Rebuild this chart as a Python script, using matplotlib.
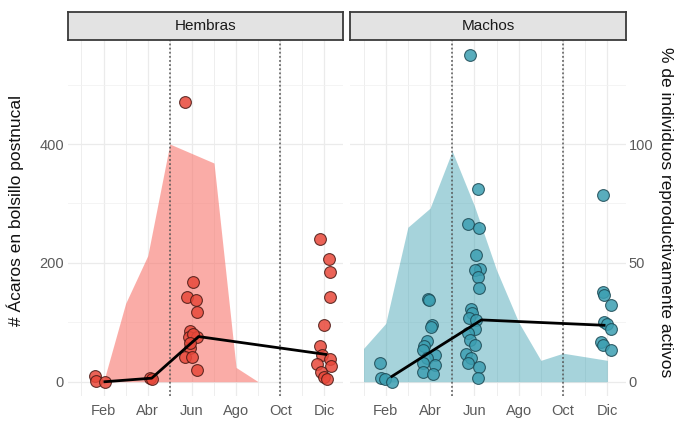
import matplotlib
matplotlib.use("Agg")
import matplotlib.pyplot as plt
import numpy as np

plt.rcParams['font.family'] = ['Liberation Sans', 'DejaVu Sans']

# month positions (1 = Jan) and labels
month_ticks = [2, 4, 6, 8, 10, 12]
month_labels = ['Feb', 'Abr', 'Jun', 'Ago', 'Oct', 'Dic']
dotted_months = [5, 10]

# % reproductively active (ribbon)
hem_rib_month = [2, 3, 4, 5, 6, 7, 8, 9]
hem_rib_pct = [0, 33, 53, 100, 96, 92, 6, 0]
mac_rib_month = [1, 2, 3, 4, 5, 6, 7, 8, 9, 10, 11, 12]
mac_rib_pct = [14, 24.5, 65, 73, 97, 74, 47, 25, 9, 12, 10.5, 9]

# mite counts per individual (jittered month, count)
hem_x = [1.62, 1.68, 2.06, 4.10, 4.20,
         5.70, 6.05, 5.77, 6.20, 6.23, 5.92, 5.85, 6.23, 5.92, 5.70, 6.00, 6.25, 6.05, 5.90,
         11.80, 12.21, 12.26, 12.26, 11.98, 11.80, 11.90, 12.26, 11.68, 12.29, 11.86, 11.98, 12.10]
hem_y = [10, 2, 0, 7, 5,
         470, 168, 143, 138, 118, 86, 76, 76, 56, 42, 41, 19, 80, 65,
         241, 207, 185, 142, 95, 60, 45, 39, 30, 26, 17, 8, 4]

mac_x = [1.75, 1.78, 1.97, 2.28,
         3.92, 3.95, 4.10, 4.05, 3.85, 3.75, 3.70, 4.22, 3.85, 3.70, 4.22, 3.69, 4.14,
         5.79, 6.16, 5.71, 6.21, 6.09, 6.24, 6.02, 6.16, 6.21, 5.87, 5.90, 5.76, 6.09, 6.02,
         5.71, 5.79, 6.02, 5.64, 5.87, 5.71, 6.21, 6.16,
         11.78, 11.78, 11.85, 12.15, 11.85, 11.99, 12.15, 11.70, 11.80, 12.15]
mac_y = [32, 6, 4, 0,
         140, 137, 95, 92, 69, 60, 54, 45, 40, 31, 28, 17, 13,
         549, 325, 266, 258, 214, 190, 188, 177, 157, 122, 115, 108, 104, 88,
         82, 71, 62, 46, 40, 32, 24, 7,
         314, 151, 146, 129, 101, 97, 88, 67, 62, 53]

# mean counts (black line)
hem_mean_x = [2.06, 4.18, 6.30, 12.06]
hem_mean_y = [0, 6, 76, 46]
mac_mean_x = [2.28, 4.10, 6.32, 11.85]
mac_mean_y = [9, 52, 104, 95]

panels = [
    ('Hembras', hem_rib_month, hem_rib_pct, hem_x, hem_y, hem_mean_x, hem_mean_y,
     '#F8766D', 0.6, '#E8483A', '#4a1a15'),
    ('Machos', mac_rib_month, mac_rib_pct, mac_x, mac_y, mac_mean_x, mac_mean_y,
     '#3A9FB0', 0.45, '#3C9FB2', '#1d4a55'),
]

W, H = 678, 422
fig = plt.figure(figsize=(W / 100, H / 100), dpi=100)

lefts = [(68, 343), (350, 626)]
top, bottom = 40, 396
strip_top = 12
tick_col = '#5A5A5A'

for i, (title, rm, rp, px, py, mx, my, rcol, ralpha, pcol, ecol) in enumerate(panels):
    x0, x1 = lefts[i]
    ax = fig.add_axes([x0 / W, 1 - bottom / H, (x1 - x0) / W, (bottom - top) / H])
    ax.set_xlim(0.39, 12.84)
    ax.set_ylim(-24, 575)
    for s in ax.spines.values():
        s.set_visible(False)

    # grid
    for m in range(1, 13):
        ax.axvline(m, color='#EBEBEB', lw=0.9 if m % 2 == 0 else 0.6, zorder=0)
    for v in [0, 200, 400]:
        ax.axhline(v, color='#EBEBEB', lw=0.9, zorder=0)
    for v in [100, 300, 500]:
        ax.axhline(v, color='#F2F2F2', lw=0.6, zorder=0)

    ax.fill_between(rm, 0, np.array(rp) * 4, color=rcol, alpha=ralpha, lw=0, zorder=1)
    for d in dotted_months:
        ax.axvline(d, color='#555555', lw=1.1, ls=(0, (1.2, 1.5)), zorder=2)

    ax.scatter(px, py, s=72, c=pcol, edgecolors=ecol, linewidths=0.8, alpha=0.85, zorder=3)
    ax.plot(mx, my, color='black', lw=2.0, zorder=4)

    ax.set_xticks(month_ticks)
    ax.set_xticklabels(month_labels)
    ax.tick_params(axis='both', length=0, labelsize=10.5, labelcolor=tick_col)
    ax.tick_params(axis='x', pad=6)
    if i == 0:
        ax.set_yticks([0, 200, 400])
        ax.tick_params(axis='y', pad=3)
    else:
        ax.set_yticks([])
        sec = ax.secondary_yaxis('right', functions=(lambda v: v / 4, lambda v: v * 4))
        sec.set_yticks([0, 50, 100])
        sec.tick_params(length=0, labelsize=10.5, labelcolor=tick_col, pad=2)
        for s in sec.spines.values():
            s.set_visible(False)

    # facet strip
    sax = fig.add_axes([x0 / W, 1 - top / H, (x1 - x0) / W, (top - strip_top) / H])
    sax.set_facecolor('#E3E3E3')
    sax.set_xticks([])
    sax.set_yticks([])
    for s in sax.spines.values():
        s.set_color('#3A3A3A')
        s.set_linewidth(1.3)
    sax.text(0.5, 0.5, title, ha='center', va='center', fontsize=11, color='#1A1A1A',
             transform=sax.transAxes)

# axis titles
fig.text(15 / W, 1 - 211 / H, '# Ácaros en bolsillo postnucal', rotation=90,
         ha='center', va='center', fontsize=12.5, color='#111111')
fig.text(666 / W, 1 - 212 / H, '% de individuos reproductivamente activos', rotation=270,
         ha='center', va='center', fontsize=12.5, color='#111111')

fig.savefig('out.png', dpi=100)
